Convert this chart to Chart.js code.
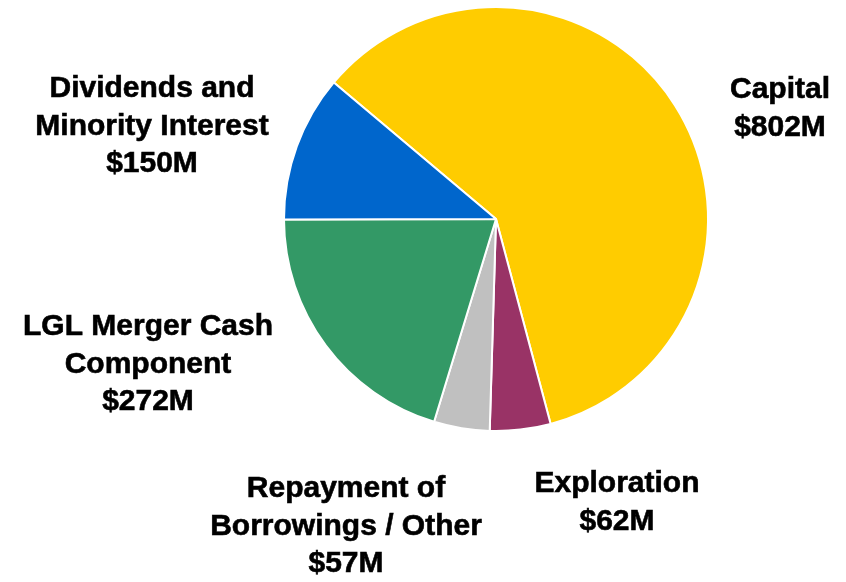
<!DOCTYPE html>
<html>
<head>
<meta charset="utf-8">
<script src="https://cdn.jsdelivr.net/npm/chart.js@4"></script>
<style>
  html, body { margin: 0; padding: 0; background: #ffffff; }
  #wrap { width: 846px; height: 582px; position: relative; }
</style>
</head>
<body>
<div id="wrap"><canvas id="cash-uses"></canvas></div>

<script>

/* PIE: USES OF CASH */

const labelarray_uses = ['Capital', 'Exploration', 'Repayment of Borrowings / Other', 'LGL Merger Cash Component', 'Dividends and Minority Interest'];
const datapointarray_uses = [802, 62, 57, 272, 150];
const colorarray_uses = ['#FFCC00', '#993366', '#C0C0C0', '#339966', '#0066CC'];

// text lines drawn beside each slice (last line is the value)
const textarray_uses = [
    ['Capital'],
    ['Exploration'],
    ['Repayment of', 'Borrowings / Other'],
    ['LGL Merger Cash', 'Component'],
    ['Dividends and', 'Minority Interest']
];

// where each label block sits: centre x, first baseline y
const labelspots = [
    { x: 780, y: 98 },
    { x: 617, y: 492 },
    { x: 346, y: 497 },
    { x: 148, y: 335 },
    { x: 152, y: 97 }
];

const sliceLabels = {
    id: 'sliceLabels',
    afterDraw(chart) {
        const c = chart.ctx;
        const values = chart.data.datasets[0].data;
        c.save();
        c.fillStyle = '#000000';
        c.strokeStyle = '#000000';
        c.lineWidth = 0.6;
        c.font = 'bold 30px "Liberation Sans", Arial, sans-serif';
        c.textAlign = 'center';
        c.textBaseline = 'alphabetic';
        textarray_uses.forEach(function(lines, i) {
            const spot = labelspots[i];
            const all = lines.concat(['$' + values[i] + 'M']);
            all.forEach(function(line, j) {
                c.fillText(line, spot.x, spot.y + j * 37.5);
                c.strokeText(line, spot.x, spot.y + j * 37.5);
            });
        });
        c.restore();
    }
};

const ctx_uses = document.getElementById('cash-uses').getContext('2d');
const chart_uses = new Chart(ctx_uses, {
    type: 'pie',
    data: {
        labels: labelarray_uses,
        datasets: [{
            data: datapointarray_uses,
            backgroundColor: colorarray_uses,
            borderColor: '#ffffff',
            borderWidth: 2,
            hoverOffset: 0
        }]
    },
    options: {
        responsive: true,
        maintainAspectRatio: false,
        animation: false,
        rotation: -49.9,
        layout: {
            padding: { left: 283, right: 137, top: 6, bottom: 150 }
        },
        plugins: {
            legend: { display: false },
            tooltip: { enabled: false }
        }
    },
    plugins: [sliceLabels]
});

</script>
</body>
</html>
